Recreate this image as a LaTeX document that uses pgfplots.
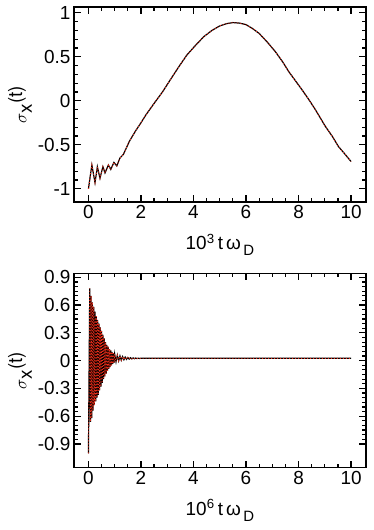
\documentclass[border=0pt]{standalone}
\usepackage{pgfplots}
\pgfplotsset{compat=1.18}
\usepackage{fontspec}
\setmainfont{Liberation Sans}
\definecolor{dashred}{RGB}{235,45,25}

\newcommand{\sigx}{{\fontencoding{T1}\fontfamily{phv}\fontsize{19}{21}\selectfont\raisebox{0.1ex}{$\sigma$}\raisebox{-0.45ex}{x}\raisebox{0.55ex}{(t)}}}

\pgfplotsset{
  every axis/.append style={
    scale only axis,
    width=292bp, height=195bp,
    xmin=-0.55, xmax=10.57,
    xtick={0,2,...,10},
    axis line style={line width=1.4pt},
    tick style={line width=1.2pt, black},
    major tick length=7bp, minor tick length=4bp,
    tick align=inside,
    xtick pos=both, ytick pos=both,
    xticklabel pos=bottom, yticklabel pos=left,
    tick label style={font=\fontsize{19}{21}\selectfont},
    /pgf/number format/assume math mode=true,
    yticklabel style={/pgf/number format/fixed},
    ylabel style={at={(axis description cs:-0.185,0.5)}, anchor=center},
    xlabel style={at={(axis description cs:0.5,-0.22)}, anchor=center, font=\fontsize{19}{21}\selectfont},
    clip=false,
  },
}

\begin{document}
\begin{tikzpicture}
\useasboundingbox (0bp,0bp) rectangle (374bp,530bp);

\begin{axis}[
  at={(74bp,328bp)}, anchor=south west,
  ymin=-1.15, ymax=1.065,
  ytick={-1,-0.5,0,0.5,1},
  minor x tick num=3, minor y tick num=4,
  xlabel={10\textsuperscript{3}\,t\,ω\raisebox{-0.6ex}{\fontsize{15}{17}\selectfont\,D}},
  ylabel={\sigx},
]
\addplot[black, line width=1.2pt] coordinates {
(0,-1) (0.13,-0.73) (0.25,-0.93) (0.34,-0.75) (0.44,-0.88) (0.55,-0.75)
(0.63,-0.82) (0.76,-0.73) (0.85,-0.78) (0.97,-0.70) (1.08,-0.74)
(1.2,-0.65) (1.33,-0.61) (1.56,-0.46) (1.8,-0.34) (2.0,-0.25) (2.19,-0.16)
(2.5,-0.03) (2.82,0.10) (3.1,0.23) (3.45,0.39) (3.75,0.52) (4.08,0.63)
(4.4,0.73) (4.71,0.80) (5.0,0.85) (5.25,0.875) (5.5,0.888) (5.75,0.882)
(6.0,0.865) (6.25,0.82) (6.5,0.765) (6.8,0.67) (7.12,0.557) (7.4,0.44)
(7.63,0.33) (7.9,0.22) (8.14,0.122) (8.4,0.01) (8.64,-0.10) (9.02,-0.29)
(9.3,-0.41) (9.52,-0.52) (9.75,-0.60) (10.0,-0.69)
};
\addplot[dashred, line width=0.9pt, dash pattern=on 1pt off 2pt] coordinates {
(0,-1) (0.13,-0.73) (0.25,-0.93) (0.34,-0.75) (0.44,-0.88) (0.55,-0.75)
(0.63,-0.82) (0.76,-0.73) (0.85,-0.78) (0.97,-0.70) (1.08,-0.74)
(1.2,-0.65) (1.33,-0.61) (1.56,-0.46) (1.8,-0.34) (2.0,-0.25) (2.19,-0.16)
(2.5,-0.03) (2.82,0.10) (3.1,0.23) (3.45,0.39) (3.75,0.52) (4.08,0.63)
(4.4,0.73) (4.71,0.80) (5.0,0.85) (5.25,0.875) (5.5,0.888) (5.75,0.882)
(6.0,0.865) (6.25,0.82) (6.5,0.765) (6.8,0.67) (7.12,0.557) (7.4,0.44)
(7.63,0.33) (7.9,0.22) (8.14,0.122) (8.4,0.01) (8.64,-0.10) (9.02,-0.29)
(9.3,-0.41) (9.52,-0.52) (9.75,-0.60) (10.0,-0.69)
};
\end{axis}

\begin{axis}[
  at={(74bp,62.3bp)}, anchor=south west,
  height=194.4bp,
  ymin=-1.156, ymax=0.943,
  ytick={-0.9,-0.6,-0.3,0,0.3,0.6,0.9},
  yticklabels={-0.9,-0.6,-0.3,0,0.3,0.6,0.9},
  minor x tick num=3, minor y tick num=5,
  xlabel={10\textsuperscript{6}\,t\,ω\raisebox{-0.6ex}{\fontsize{15}{17}\selectfont\,D}},
  ylabel={\sigx},
]
\addplot[black, line width=1.2pt] coordinates {
(0,-1) (0.05,0.78) (0.075,-0.66) (0.1,0.70) (0.125,-0.62) (0.15,0.63)
(0.175,-0.54) (0.2,0.58) (0.225,-0.48) (0.25,0.53) (0.275,-0.44) (0.3,0.48)
(0.325,-0.40) (0.35,0.44) (0.375,-0.37) (0.4,0.40) (0.425,-0.32) (0.45,0.36)
(0.475,-0.28) (0.5,0.32) (0.525,-0.24) (0.55,0.28) (0.575,-0.2) (0.6,0.24)
(0.625,-0.17) (0.65,0.2) (0.675,-0.14) (0.7,0.17) (0.725,-0.11) (0.75,0.15)
(0.775,-0.09) (0.8,0.125) (0.825,-0.07) (0.85,0.11) (0.875,-0.05) (0.9,0.095)
(0.925,-0.035) (0.95,0.08) (0.975,-0.025) (1.0,0.07) (1.05,-0.012) (1.1,0.058)
(1.15,-0.002) (1.2,0.05) (1.25,0.005) (1.3,0.043) (1.35,0.01) (1.4,0.038)
(1.45,0.014) (1.5,0.034) (1.55,0.017) (1.6,0.031) (1.65,0.019) (1.7,0.029)
(1.75,0.021) (1.8,0.028) (1.85,0.022) (1.9,0.027) (1.95,0.023) (2.0,0.026)
(2.5,0.025) (10,0.025)
};
\addplot[dashred, line width=0.9pt, dash pattern=on 1pt off 2pt] coordinates {
(0,-1) (0.05,0.78) (0.075,-0.66) (0.1,0.70) (0.125,-0.62) (0.15,0.63)
(0.175,-0.54) (0.2,0.58) (0.225,-0.48) (0.25,0.53) (0.275,-0.44) (0.3,0.48)
(0.325,-0.40) (0.35,0.44) (0.375,-0.37) (0.4,0.40) (0.425,-0.32) (0.45,0.36)
(0.475,-0.28) (0.5,0.32) (0.525,-0.24) (0.55,0.28) (0.575,-0.2) (0.6,0.24)
(0.625,-0.17) (0.65,0.2) (0.675,-0.14) (0.7,0.17) (0.725,-0.11) (0.75,0.15)
(0.775,-0.09) (0.8,0.125) (0.825,-0.07) (0.85,0.11) (0.875,-0.05) (0.9,0.095)
(0.925,-0.035) (0.95,0.08) (0.975,-0.025) (1.0,0.07) (1.05,-0.012) (1.1,0.058)
(1.15,-0.002) (1.2,0.05) (1.25,0.005) (1.3,0.043) (1.35,0.01) (1.4,0.038)
(1.45,0.014) (1.5,0.034) (1.55,0.017) (1.6,0.031) (1.65,0.019) (1.7,0.029)
(1.75,0.021) (1.8,0.028) (1.85,0.022) (1.9,0.027) (1.95,0.023) (2.0,0.026)
(2.5,0.025) (10,0.025)
};
\end{axis}
\end{tikzpicture}
\end{document}
